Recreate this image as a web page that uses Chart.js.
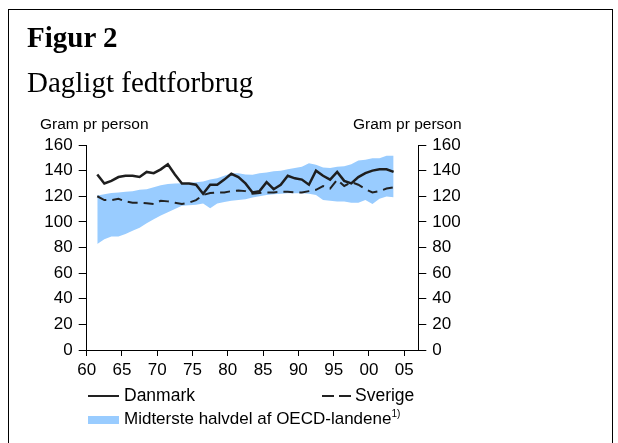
<!DOCTYPE html>
<html>
<head>
<meta charset="utf-8">
<script src="https://cdn.jsdelivr.net/npm/chart.js@4"></script>
<style>
    html, body { margin: 0; padding: 0; background: #fff; }
    #page { position: relative; width: 618px; height: 443px; overflow: hidden; }
    #frame { position: absolute; left: 8px; top: 9px; width: 605px; height: 460px; border: 1px solid #000; box-sizing: border-box; }
    .t { position: absolute; line-height: 1; white-space: nowrap; color: #000; }
    .serif { font-family: "Liberation Serif", "Times New Roman", serif; font-size: 29px; }
    .sans { font-family: "Liberation Sans", Arial, sans-serif; }
    #chart { position: absolute; left: 0; top: 0; }
    .swatch { position: absolute; }
</style>
</head>
<body>
<div id="page">
    <div id="frame"></div>
    <canvas id="chart" width="618" height="443"></canvas>
    <div class="t serif" style="left:27px; top:23px; font-weight:bold;">Figur 2</div>
    <div class="t serif" style="left:27px; top:68px;">Dagligt fedtforbrug</div>
    <div class="t sans" style="left:40px; top:116px; font-size:15.5px;">Gram pr person</div>
    <div class="t sans" style="left:353px; top:116px; font-size:15.5px;">Gram pr person</div>

    <div class="swatch" style="left:88px; top:395px; width:31px; height:2px; background:#222;"></div>
    <div class="t sans" style="left:124px; top:387px; font-size:17.5px;">Danmark</div>
    <div class="swatch" style="left:322px; top:395px; width:12px; height:2px; background:#222;"></div>
    <div class="swatch" style="left:339px; top:395px; width:12px; height:2px; background:#222;"></div>
    <div class="t sans" style="left:355px; top:387px; font-size:17.5px;">Sverige</div>
    <div class="swatch" style="left:88px; top:416px; width:31px; height:8px; background:#99ccff;"></div>
    <div class="t sans" style="left:124px; top:409px; font-size:17px;">Midterste halvdel af OECD-landene<sup style="font-size:10px; vertical-align:7px;">1)</sup></div>
</div>
<script>
const years = [1961, 1962, 1963, 1964, 1965, 1966, 1967, 1968, 1969, 1970,
    1971, 1972, 1973, 1974, 1975, 1976, 1977, 1978, 1979, 1980,
    1981, 1982, 1983, 1984, 1985, 1986, 1987, 1988, 1989, 1990,
    1991, 1992, 1993, 1994, 1995, 1996, 1997, 1998, 1999, 2000,
    2001, 2002, 2003];

const danmark = [137, 130, 132, 135, 136, 136, 135, 139, 138, 141,
    145, 137, 130, 130, 129, 122, 129, 129, 133, 137.5,
    135, 130, 123, 124, 131, 125.5, 129, 136, 134, 133,
    129, 140, 136, 133, 139, 132, 130, 135, 138, 140,
    141, 141, 139];

const sverige = [120, 117, 117, 118, 116, 115, 115, 114.5, 114, 116.5,
    116, 115, 114, 115, 117, 121, 122.5, 123, 123, 124,
    124.5, 124, 122, 122.5, 123, 123, 123.5, 123.5, 123, 123,
    124, 125, 128, 126, 133, 128, 131, 129, 125.5, 123,
    124, 126, 127];

const oecdHigh = [120.5, 121.5, 122.5, 123, 123.5, 124, 125, 125.5, 127, 128.5,
    129.5, 130, 130.2, 130.5, 131, 131.5, 133, 134, 136, 138,
    138, 137, 136.7, 138, 138.5, 139.5, 140, 141, 142, 143,
    145.8, 144.5, 142.5, 142, 143, 143.5, 145, 148, 148.5, 149.7,
    149.7, 151.6, 151.6];

const oecdLow = [82.8, 86.5, 88.5, 88.5, 90.5, 93, 95.5, 99, 102, 105,
    107.5, 110, 112.5, 113, 113.3, 114.3, 110.7, 114.3, 115.5, 116.5,
    117, 117.7, 119, 120, 121, 121.5, 122, 122.4, 122.4, 122.4,
    122, 121, 117, 116.5, 116, 116, 115, 115, 117, 114,
    118, 119.8, 119.3];

const xTickLabels = ['60', '65', '70', '75', '80', '85', '90', '95', '00', '05'];
const yTicks = [0, 20, 40, 60, 80, 100, 120, 140, 160];

function pts(values) {
    return values.map((v, i) => ({ x: years[i], y: v }));
}

// year ticks sit on the boundary before each labelled year
const xTickValues = xTickLabels.map((_, i) => 1959.5 + i * 5);

const yAxis = (pos, w) => ({
    type: 'linear',
    position: pos,
    min: 0,
    max: 160,
    afterBuildTicks: (s) => { s.ticks = yTicks.map(v => ({ value: v })); },
    afterFit: (s) => { s.width = w; },
    grid: { drawOnChartArea: false, drawTicks: true, tickLength: 8, color: '#000', lineWidth: 1 },
    border: { display: true, color: '#000', width: 1 },
    ticks: {
        color: '#000',
        padding: 6,
        font: { family: 'Liberation Sans', size: 17 }
    }
});

new Chart(document.getElementById('chart'), {
    type: 'line',
    data: {
        datasets: [
            {
                label: 'Danmark',
                data: pts(danmark),
                borderColor: '#1e1e1e',
                borderWidth: 2.5,
                pointRadius: 0,
                tension: 0,
                fill: false
            },
            {
                label: 'Sverige',
                data: pts(sverige),
                borderColor: '#222',
                borderWidth: 2,
                borderDash: [10, 6],
                pointRadius: 0,
                tension: 0,
                fill: false
            },
            {
                label: 'Midterste halvdel af OECD-landene',
                data: pts(oecdHigh),
                borderWidth: 0,
                borderColor: 'rgba(0,0,0,0)',
                backgroundColor: '#99ccff',
                pointRadius: 0,
                tension: 0,
                fill: '+1'
            },
            {
                label: 'low',
                data: pts(oecdLow),
                borderWidth: 0,
                borderColor: 'rgba(0,0,0,0)',
                pointRadius: 0,
                tension: 0,
                fill: false
            }
        ]
    },
    options: {
        responsive: false,
        animation: false,
        events: [],
        layout: { padding: { left: 0, right: 0, top: 145, bottom: 53 } },
        plugins: { legend: { display: false }, tooltip: { enabled: false } },
        scales: {
            x: {
                type: 'linear',
                min: 1959.5,
                max: 2006.5,
                afterBuildTicks: (s) => { s.ticks = xTickValues.map(v => ({ value: v })); },
                afterFit: (s) => { s.height = 40; },
                grid: { drawOnChartArea: false, drawTicks: true, tickLength: 6, color: '#000' },
                border: { display: true, color: '#000' },
                ticks: {
                    color: '#000',
                    padding: 4,
                    maxRotation: 0,
                    font: { family: 'Liberation Sans', size: 17 },
                    callback: (v) => xTickLabels[xTickValues.indexOf(v)]
                }
            },
            y: yAxis('left', 86.7),
            y2: yAxis('right', 199.7)
        }
    }
});
</script>
</body>
</html>
